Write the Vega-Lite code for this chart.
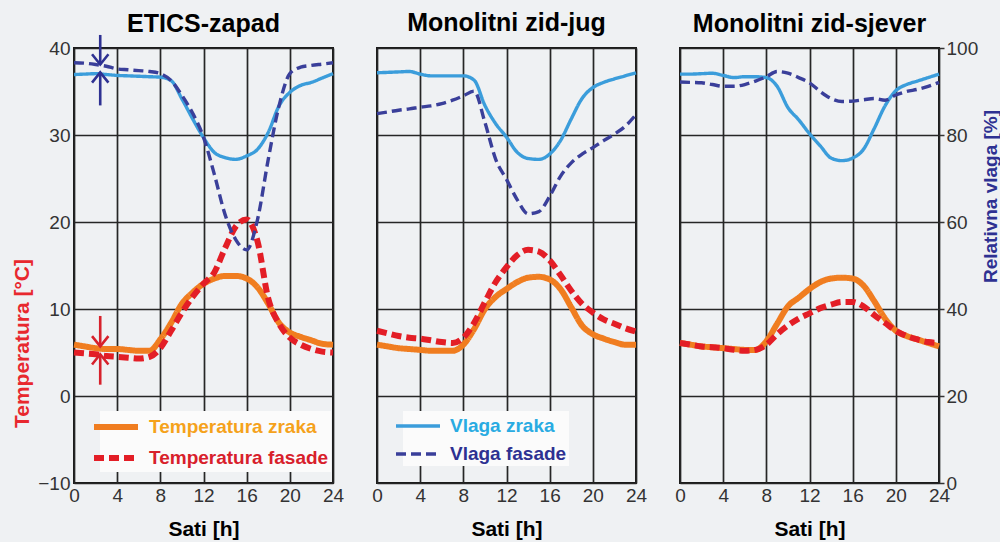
{
  "$schema": "https://vega.github.io/schema/vega-lite/v6.json",
  "background": "#eff1f3",
  "padding": {"left": 10, "top": 10, "right": 0, "bottom": 2},
  "bounds": "flush",
  "spacing": 44,
  "config": {
    "font": "Liberation Sans",
    "view": {"stroke": "#1a1a1a", "strokeWidth": 2},
    "axis": {"labelFont": "Liberation Sans", "labelFontSize": 19, "labelColor": "#333333", "gridColor": "#262626", "gridWidth": 1.7, "gridOpacity": 1, "domain": false, "ticks": false, "tickSize": 0, "labelFlush": false, "titleFont": "Liberation Sans", "titleFontWeight": "bold", "titleFontSize": 21},
    "title": {"font": "Liberation Sans", "fontSize": 25, "fontWeight": "bold", "color": "#000000", "offset": 12}
  },
  "datasets": {
    "d": [
      {"p":"E","h":0,"tz":5.9,"tf":5.0,"vz":93.9,"vf":96.6},
      {"p":"E","h":1,"tz":5.7,"tf":4.9,"vz":94.0,"vf":96.5},
      {"p":"E","h":2,"tz":5.5,"tf":4.8,"vz":94.1,"vf":96.2},
      {"p":"E","h":3,"tz":5.4,"tf":4.6,"vz":93.9,"vf":95.8},
      {"p":"E","h":4,"tz":5.4,"tf":4.5,"vz":93.7,"vf":95.2},
      {"p":"E","h":5,"tz":5.3,"tf":4.4,"vz":93.6,"vf":95.0},
      {"p":"E","h":6,"tz":5.2,"tf":4.3,"vz":93.5,"vf":94.8},
      {"p":"E","h":7,"tz":5.2,"tf":4.5,"vz":93.4,"vf":94.6},
      {"p":"E","h":8,"tz":6.5,"tf":5.5,"vz":93.3,"vf":94.1},
      {"p":"E","h":9,"tz":8.4,"tf":7.5,"vz":92.5,"vf":92.5},
      {"p":"E","h":10,"tz":10.6,"tf":9.6,"vz":88.3,"vf":89.1},
      {"p":"E","h":11,"tz":11.9,"tf":11.4,"vz":83.7,"vf":85.0},
      {"p":"E","h":12,"tz":12.9,"tf":12.9,"vz":79.4,"vf":79.5},
      {"p":"E","h":13,"tz":13.5,"tf":14.2,"vz":76.0,"vf":71.0},
      {"p":"E","h":14,"tz":13.8,"tf":17.0,"vz":74.8,"vf":61.7},
      {"p":"E","h":15,"tz":13.8,"tf":19.5,"vz":74.4,"vf":55.9},
      {"p":"E","h":16,"tz":13.5,"tf":20.3,"vz":75.2,"vf":53.6},
      {"p":"E","h":17,"tz":12.5,"tf":17.8,"vz":76.7,"vf":60.5},
      {"p":"E","h":18,"tz":10.6,"tf":11.2,"vz":80.6,"vf":74.4},
      {"p":"E","h":19,"tz":8.4,"tf":8.3,"vz":86.7,"vf":86.7},
      {"p":"E","h":20,"tz":7.3,"tf":6.7,"vz":89.8,"vf":94.1},
      {"p":"E","h":21,"tz":6.8,"tf":5.9,"vz":91.4,"vf":95.6},
      {"p":"E","h":22,"tz":6.4,"tf":5.4,"vz":92.1,"vf":96.0},
      {"p":"E","h":23,"tz":6.0,"tf":5.1,"vz":93.1,"vf":96.3},
      {"p":"E","h":24,"tz":5.9,"tf":5.0,"vz":94.1,"vf":96.6},
      {"p":"J","h":0,"tz":5.9,"tf":7.5,"vz":94.3,"vf":84.9},
      {"p":"J","h":1,"tz":5.7,"tf":7.2,"vz":94.4,"vf":85.3},
      {"p":"J","h":2,"tz":5.5,"tf":6.9,"vz":94.5,"vf":85.7},
      {"p":"J","h":3,"tz":5.4,"tf":6.7,"vz":94.6,"vf":86.0},
      {"p":"J","h":4,"tz":5.3,"tf":6.6,"vz":94.0,"vf":86.4},
      {"p":"J","h":5,"tz":5.2,"tf":6.4,"vz":93.6,"vf":86.7},
      {"p":"J","h":6,"tz":5.2,"tf":6.2,"vz":93.6,"vf":87.2},
      {"p":"J","h":7,"tz":5.2,"tf":6.1,"vz":93.6,"vf":88.0},
      {"p":"J","h":8,"tz":5.9,"tf":6.7,"vz":93.6,"vf":89.0},
      {"p":"J","h":9,"tz":7.7,"tf":8.4,"vz":92.6,"vf":90.1},
      {"p":"J","h":10,"tz":10.0,"tf":10.8,"vz":86.8,"vf":82.9},
      {"p":"J","h":11,"tz":11.4,"tf":13.1,"vz":82.6,"vf":74.4},
      {"p":"J","h":12,"tz":12.3,"tf":14.8,"vz":79.5,"vf":69.8},
      {"p":"J","h":13,"tz":13.1,"tf":16.2,"vz":76.0,"vf":65.1},
      {"p":"J","h":14,"tz":13.6,"tf":16.8,"vz":74.6,"vf":61.9},
      {"p":"J","h":15,"tz":13.7,"tf":16.6,"vz":74.4,"vf":62.4},
      {"p":"J","h":16,"tz":13.4,"tf":15.6,"vz":75.6,"vf":65.9},
      {"p":"J","h":17,"tz":12.3,"tf":13.9,"vz":78.7,"vf":70.5},
      {"p":"J","h":18,"tz":10.2,"tf":12.1,"vz":83.7,"vf":73.6},
      {"p":"J","h":19,"tz":8.1,"tf":10.6,"vz":88.4,"vf":75.6},
      {"p":"J","h":20,"tz":7.1,"tf":9.6,"vz":90.9,"vf":77.1},
      {"p":"J","h":21,"tz":6.6,"tf":8.8,"vz":92.1,"vf":78.7},
      {"p":"J","h":22,"tz":6.2,"tf":8.3,"vz":92.9,"vf":80.2},
      {"p":"J","h":23,"tz":5.9,"tf":7.8,"vz":93.6,"vf":82.0},
      {"p":"J","h":24,"tz":5.9,"tf":7.4,"vz":94.3,"vf":84.7},
      {"p":"S","h":0,"tz":6.1,"tf":6.1,"vz":94.0,"vf":92.2},
      {"p":"S","h":1,"tz":5.9,"tf":5.9,"vz":94.0,"vf":92.1},
      {"p":"S","h":2,"tz":5.7,"tf":5.7,"vz":94.1,"vf":92.0},
      {"p":"S","h":3,"tz":5.6,"tf":5.6,"vz":94.2,"vf":91.6},
      {"p":"S","h":4,"tz":5.5,"tf":5.5,"vz":93.7,"vf":91.2},
      {"p":"S","h":5,"tz":5.4,"tf":5.3,"vz":93.2,"vf":91.2},
      {"p":"S","h":6,"tz":5.3,"tf":5.2,"vz":93.4,"vf":91.6},
      {"p":"S","h":7,"tz":5.3,"tf":5.3,"vz":93.4,"vf":92.4},
      {"p":"S","h":8,"tz":6.3,"tf":5.9,"vz":93.2,"vf":93.4},
      {"p":"S","h":9,"tz":8.3,"tf":7.1,"vz":91.2,"vf":94.6},
      {"p":"S","h":10,"tz":10.3,"tf":8.1,"vz":86.3,"vf":94.2},
      {"p":"S","h":11,"tz":11.3,"tf":8.9,"vz":83.5,"vf":93.2},
      {"p":"S","h":12,"tz":12.3,"tf":9.5,"vz":80.3,"vf":92.0},
      {"p":"S","h":13,"tz":13.1,"tf":10.1,"vz":77.5,"vf":90.0},
      {"p":"S","h":14,"tz":13.5,"tf":10.5,"vz":74.7,"vf":88.4},
      {"p":"S","h":15,"tz":13.6,"tf":10.8,"vz":74.1,"vf":87.7},
      {"p":"S","h":16,"tz":13.5,"tf":10.8,"vz":74.7,"vf":87.8},
      {"p":"S","h":17,"tz":12.7,"tf":10.3,"vz":76.7,"vf":88.1},
      {"p":"S","h":18,"tz":10.9,"tf":9.3,"vz":81.5,"vf":88.4},
      {"p":"S","h":19,"tz":8.9,"tf":8.4,"vz":86.7,"vf":88.0},
      {"p":"S","h":20,"tz":7.5,"tf":7.5,"vz":90.2,"vf":89.2},
      {"p":"S","h":21,"tz":6.9,"tf":6.9,"vz":91.6,"vf":90.0},
      {"p":"S","h":22,"tz":6.5,"tf":6.5,"vz":92.4,"vf":90.5},
      {"p":"S","h":23,"tz":6.1,"tf":6.2,"vz":93.2,"vf":91.2},
      {"p":"S","h":24,"tz":5.7,"tf":6.1,"vz":94.0,"vf":92.1}
    ],
    "arr": [
      {"g":"rh","dir":"down","h":2.43,"a":41.5,"b":38.1},
      {"g":"rh","dir":"up","h":2.43,"a":33.4,"b":37.2},
      {"g":"t","dir":"down","h":2.43,"a":9.2,"b":5.7},
      {"g":"t","dir":"up","h":2.43,"a":1.3,"b":4.8}
    ]
  },
  "hconcat": [
    {
      "width": 259, "height": 435,
      "title": {"text": "ETICS-zapad", "offset": -3},
      "layer": [
        {
          "data": {"name": "d"},
          "transform": [{"filter": "datum.p == 'E'"}, {"fold": ["tz", "tf"], "as": ["s", "v"]}],
          "mark": {"type": "line", "strokeWidth": 6, "interpolate": "monotone", "strokeCap": "butt"},
          "encoding": {
            "x": {"field": "h", "type": "quantitative", "scale": {"domain": [0, 24], "nice": false}, "axis": {"values": [0, 4, 8, 12, 16, 20, 24], "grid": true, "title": "Sati [h]", "titleColor": "#000000", "labelPadding": 3, "titlePadding": 13}},
            "y": {"field": "v", "type": "quantitative", "scale": {"domain": [-10, 40], "nice": false}, "axis": {"values": [-10, 0, 10, 20, 30, 40], "grid": true, "labelPadding": 4, "title": "Temperatura [°C]", "titleColor": "#e8282e", "titleFontSize": 21, "titleAngle": 270, "titleX": -52, "titleY": 295, "titleAlign": "center", "titleBaseline": "middle"}},
            "color": {"field": "s", "type": "nominal", "scale": {"domain": ["tz", "tf"], "range": ["#f07d20", "#e31e26"]},
              "legend": {"title": null, "orient": "none", "legendX": 26, "legendY": 363, "fillColor": "#fbfbfb", "padding": 2, "symbolType": "M-2,0L2,0", "symbolSize": 484, "symbolStrokeWidth": 6, "labelFont": "Liberation Sans", "labelFontSize": 19, "labelFontWeight": "bold", "labelOffset": 19, "labelLimit": 400, "rowPadding": 5, "labelExpr": "datum.value == 'tz' ? 'Temperatura zraka' : 'Temperatura fasade'", "encode": {"labels": {"update": {"fill": {"signal": "datum.value == 'tz' ? '#f5a21b' : '#d8202b'"}}}}}},
            "strokeDash": {"field": "s", "type": "nominal", "scale": {"domain": ["tz", "tf"], "range": [[1, 0], [10, 5]]},
              "legend": {"title": null, "orient": "none", "legendX": 26, "legendY": 363, "fillColor": "#fbfbfb", "padding": 2, "symbolType": "M-2,0L2,0", "symbolSize": 484, "symbolStrokeWidth": 6, "labelFont": "Liberation Sans", "labelFontSize": 19, "labelFontWeight": "bold", "labelOffset": 19, "labelLimit": 400, "rowPadding": 5, "labelExpr": "datum.value == 'tz' ? 'Temperatura zraka' : 'Temperatura fasade'", "encode": {"labels": {"update": {"fill": {"signal": "datum.value == 'tz' ? '#f5a21b' : '#d8202b'"}}}}}}
          }
        },
        {
          "data": {"name": "d"},
          "transform": [{"filter": "datum.p == 'E'"}, {"fold": ["vz", "vf"], "as": ["s", "v"]}],
          "mark": {"type": "line", "strokeWidth": 3.4, "interpolate": "monotone", "strokeCap": "butt"},
          "encoding": {
            "x": {"field": "h", "type": "quantitative"},
            "y": {"field": "v", "type": "quantitative", "scale": {"domain": [0, 100], "nice": false}, "axis": null},
            "color": {"field": "s", "type": "nominal", "scale": {"domain": ["vz", "vf"], "range": ["#3b9ddb", "#3a3f9a"]}, "legend": null},
            "strokeDash": {"field": "s", "type": "nominal", "scale": {"domain": ["vz", "vf"], "range": [[1, 0], [10, 5]]}, "legend": null}
          }
        },
        {
          "data": {"name": "arr"},
          "mark": {"type": "rule", "strokeWidth": 2.6, "strokeCap": "butt"},
          "encoding": {
            "x": {"field": "h", "type": "quantitative"},
            "y": {"field": "a", "type": "quantitative", "scale": {"domain": [-10, 40], "nice": false}, "axis": null},
            "y2": {"field": "b"},
            "color": {"field": "g", "type": "nominal", "scale": {"domain": ["rh", "t"], "range": ["#2e3192", "#d7212b"]}, "legend": null}
          }
        },
        {
          "data": {"name": "arr"},
          "mark": {"type": "point", "filled": false, "strokeWidth": 2.6, "size": 420, "opacity": 1},
          "encoding": {
            "x": {"field": "h", "type": "quantitative"},
            "y": {"field": "b", "type": "quantitative", "scale": {"domain": [-10, 40], "nice": false}, "axis": null},
            "color": {"field": "g", "type": "nominal", "scale": {"domain": ["rh", "t"], "range": ["#2e3192", "#d7212b"]}, "legend": null},
            "shape": {"field": "dir", "type": "nominal", "scale": {"domain": ["down", "up"], "range": ["M-0.8,-1L0,0L0.8,-1", "M-0.8,1L0,0L0.8,1"]}, "legend": null}
          }
        }
      ],
      "resolve": {"scale": {"y": "independent", "color": "independent", "strokeDash": "independent", "shape": "independent"}}
    },
    {
      "width": 259, "height": 435,
      "title": {"text": "Monolitni zid-jug", "offset": 12},
      "layer": [
        {
          "data": {"name": "d"},
          "transform": [{"filter": "datum.p == 'J'"}, {"fold": ["tz", "tf"], "as": ["s", "v"]}],
          "mark": {"type": "line", "strokeWidth": 6, "interpolate": "monotone", "strokeCap": "butt"},
          "encoding": {
            "x": {"field": "h", "type": "quantitative", "scale": {"domain": [0, 24], "nice": false}, "axis": {"values": [0, 4, 8, 12, 16, 20, 24], "grid": true, "title": "Sati [h]", "titleColor": "#000000", "labelPadding": 3, "titlePadding": 13}},
            "y": {"field": "v", "type": "quantitative", "scale": {"domain": [-10, 40], "nice": false}, "axis": {"values": [-10, 0, 10, 20, 30, 40], "grid": true, "labels": false, "title": null}},
            "color": {"field": "s", "type": "nominal", "scale": {"domain": ["tz", "tf"], "range": ["#f07d20", "#e31e26"]}, "legend": null},
            "strokeDash": {"field": "s", "type": "nominal", "scale": {"domain": ["tz", "tf"], "range": [[1, 0], [10, 5]]}, "legend": null}
          }
        },
        {
          "data": {"name": "d"},
          "transform": [{"filter": "datum.p == 'J'"}, {"fold": ["vz", "vf"], "as": ["s", "v"]}],
          "mark": {"type": "line", "strokeWidth": 3.4, "interpolate": "monotone", "strokeCap": "butt"},
          "encoding": {
            "x": {"field": "h", "type": "quantitative"},
            "y": {"field": "v", "type": "quantitative", "scale": {"domain": [0, 100], "nice": false}, "axis": null},
            "color": {"field": "s", "type": "nominal", "scale": {"domain": ["vz", "vf"], "range": ["#3b9ddb", "#3a3f9a"]},
              "legend": {"title": null, "orient": "none", "legendX": 26, "legendY": 363, "fillColor": "#fbfbfb", "padding": 2, "symbolType": "M-2,0L2,0", "symbolSize": 484, "symbolStrokeWidth": 3.5, "labelFont": "Liberation Sans", "labelFontSize": 19, "labelFontWeight": "bold", "labelOffset": 19, "labelLimit": 400, "rowPadding": 5, "labelExpr": "datum.value == 'vz' ? 'Vlaga zraka' : 'Vlaga fasade'", "encode": {"labels": {"update": {"fill": {"signal": "datum.value == 'vz' ? '#29abe2' : '#2e3192'"}}}}}},
            "strokeDash": {"field": "s", "type": "nominal", "scale": {"domain": ["vz", "vf"], "range": [[1, 0], [10, 5]]},
              "legend": {"title": null, "orient": "none", "legendX": 26, "legendY": 363, "fillColor": "#fbfbfb", "padding": 2, "symbolType": "M-2,0L2,0", "symbolSize": 484, "symbolStrokeWidth": 3.5, "labelFont": "Liberation Sans", "labelFontSize": 19, "labelFontWeight": "bold", "labelOffset": 19, "labelLimit": 400, "rowPadding": 5, "labelExpr": "datum.value == 'vz' ? 'Vlaga zraka' : 'Vlaga fasade'", "encode": {"labels": {"update": {"fill": {"signal": "datum.value == 'vz' ? '#29abe2' : '#2e3192'"}}}}}}
          }
        }
      ],
      "resolve": {"scale": {"y": "independent", "color": "independent", "strokeDash": "independent"}}
    },
    {
      "width": 259, "height": 435,
      "title": {"text": "Monolitni zid-sjever", "offset": 2},
      "layer": [
        {
          "data": {"name": "d"},
          "transform": [{"filter": "datum.p == 'S'"}, {"fold": ["tz", "tf"], "as": ["s", "v"]}],
          "mark": {"type": "line", "strokeWidth": 6, "interpolate": "monotone", "strokeCap": "butt"},
          "encoding": {
            "x": {"field": "h", "type": "quantitative", "scale": {"domain": [0, 24], "nice": false}, "axis": {"values": [0, 4, 8, 12, 16, 20, 24], "grid": true, "title": "Sati [h]", "titleColor": "#000000", "labelPadding": 3, "titlePadding": 13}},
            "y": {"field": "v", "type": "quantitative", "scale": {"domain": [-10, 40], "nice": false}, "axis": {"values": [-10, 0, 10, 20, 30, 40], "grid": true, "labels": false, "title": null}},
            "color": {"field": "s", "type": "nominal", "scale": {"domain": ["tz", "tf"], "range": ["#f07d20", "#e31e26"]}, "legend": null},
            "strokeDash": {"field": "s", "type": "nominal", "scale": {"domain": ["tz", "tf"], "range": [[1, 0], [10, 5]]}, "legend": null}
          }
        },
        {
          "data": {"name": "d"},
          "transform": [{"filter": "datum.p == 'S'"}, {"fold": ["vz", "vf"], "as": ["s", "v"]}],
          "mark": {"type": "line", "strokeWidth": 3.4, "interpolate": "monotone", "strokeCap": "butt"},
          "encoding": {
            "x": {"field": "h", "type": "quantitative"},
            "y": {"field": "v", "type": "quantitative", "scale": {"domain": [0, 100], "nice": false}, "axis": {"orient": "right", "values": [0, 20, 40, 60, 80, 100], "grid": false, "ticks": true, "tickSize": 5, "tickColor": "#333333", "tickWidth": 1.5, "labelPadding": 2, "title": "Relativna vlaga [%]", "titleColor": "#2e3192", "titleFontSize": 19, "titleAngle": 270, "titleX": 51, "titleY": 148, "titleAlign": "center", "titleBaseline": "middle"}},
            "color": {"field": "s", "type": "nominal", "scale": {"domain": ["vz", "vf"], "range": ["#3b9ddb", "#3a3f9a"]}, "legend": null},
            "strokeDash": {"field": "s", "type": "nominal", "scale": {"domain": ["vz", "vf"], "range": [[1, 0], [10, 5]]}, "legend": null}
          }
        }
      ],
      "resolve": {"scale": {"y": "independent", "color": "independent", "strokeDash": "independent"}}
    }
  ],
  "resolve": {"scale": {"color": "independent", "strokeDash": "independent", "shape": "independent"}}
}
